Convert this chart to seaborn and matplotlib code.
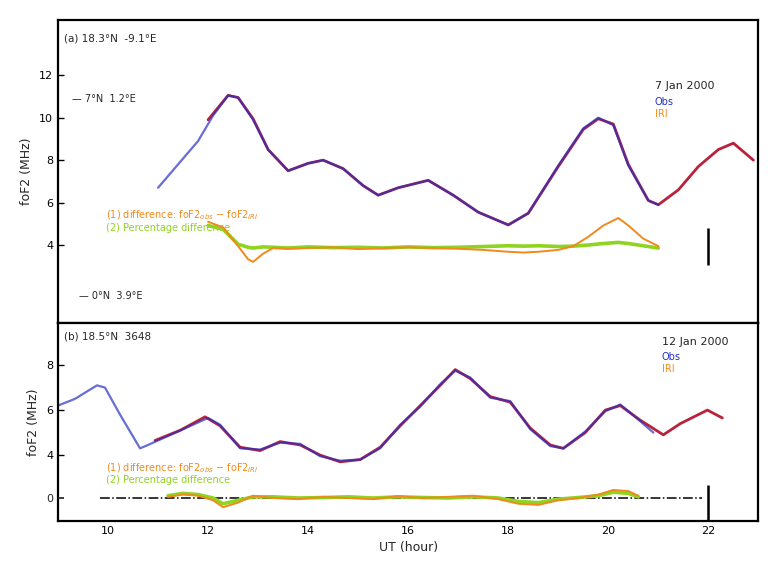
import numpy as np
import pandas as pd
import matplotlib
matplotlib.use("Agg")
import matplotlib.pyplot as plt
import seaborn as sns

sns.set_theme(style="white")
plt.rcParams["font.family"] = ["DejaVu Sans"]

# ---------------- data ----------------
# Panel (a): 7 Jan 2000
a_obs_ut = [11.0, 11.4, 11.8, 12.1, 12.4, 12.6, 12.9, 13.2, 13.6, 14.0, 14.3, 14.7, 15.1, 15.4,
            15.8, 16.4, 16.9, 17.4, 18.0, 18.4, 19.0, 19.5, 19.8, 20.1, 20.4, 20.8, 21.0]
a_obs = [6.7, 7.8, 8.9, 10.1, 11.05, 10.95, 9.9, 8.5, 7.5, 7.85, 8.0, 7.6, 6.8, 6.35,
         6.7, 7.05, 6.35, 5.55, 4.95, 5.5, 7.75, 9.5, 10.0, 9.65, 7.75, 6.1, 5.9]
a_iri_ut = [12.0, 12.4, 12.6, 12.9, 13.2, 13.6, 14.0, 14.3, 14.7, 15.1, 15.4, 15.8, 16.4, 16.9,
            17.4, 18.0, 18.4, 19.0, 19.5, 19.8, 20.1, 20.4, 20.8, 21.0, 21.4, 21.8, 22.2, 22.5, 22.9]
a_iri = [9.9, 11.05, 10.95, 9.95, 8.5, 7.5, 7.85, 8.0, 7.6, 6.8, 6.35, 6.7, 7.05, 6.35,
         5.55, 4.95, 5.5, 7.7, 9.45, 9.95, 9.7, 7.8, 6.1, 5.9, 6.6, 7.7, 8.5, 8.8, 8.0]
a_diff_ut = [12.0, 12.3, 12.6, 12.8, 12.9, 13.1, 13.3, 13.6, 14.0, 14.5, 15.0, 15.5, 16.0, 16.5,
             17.0, 17.5, 18.0, 18.3, 18.6, 19.0, 19.3, 19.6, 19.9, 20.2, 20.4, 20.7, 21.0]
a_diff = [0.7, 0.55, 0.05, -0.3, -0.37, -0.15, 0.0, -0.02, 0.0, 0.02, -0.03, 0.0, 0.02, 0.0,
          -0.02, -0.05, -0.1, -0.12, -0.1, -0.05, 0.05, 0.3, 0.6, 0.8, 0.6, 0.25, 0.05]
a_pct = [0.6, 0.5, 0.1, 0.02, 0.0, 0.03, 0.02, 0.0, 0.03, 0.01, 0.02, 0.0, 0.03, 0.01,
         0.02, 0.04, 0.06, 0.05, 0.06, 0.04, 0.05, 0.08, 0.12, 0.15, 0.12, 0.06, 0.0]

# Panel (b): 12 Jan 2000
b_obs_ut = [9.0, 9.34, 9.78, 9.94, 10.24, 10.64, 10.8, None,
            12.0, 12.24, 12.64, 13.04, 13.44, 13.84, 14.24, 14.64, 15.04, 15.44, 15.84, 16.24,
            16.64, 16.94, 17.24, 17.64, 18.04, 18.44, 18.84, 19.1, 19.54, 19.94, 20.24, 20.64, 20.9]
b_obs = [6.2, 6.5, 7.1, 7.0, 5.8, 4.3, 4.45, None,
         5.65, 5.35, 4.3, 4.25, 4.55, 4.5, 3.95, 3.75, 3.8, 4.3, 5.35, 6.15,
         7.15, 7.75, 7.45, 6.55, 6.4, 5.15, 4.4, 4.3, 5.05, 5.95, 6.25, 5.5, 5.0]
b_iri_ut = [10.94, 11.44, 11.94, 12.24, 12.64, 13.04, 13.44, 13.84, 14.24, 14.64, 15.04, 15.44,
            15.84, 16.24, 16.64, 16.94, 17.24, 17.64, 18.04, 18.44, 18.84, 19.1, 19.54, 19.94,
            20.24, 20.64, 21.1, 21.44, 21.98, 22.28]
b_iri = [4.65, 5.1, 5.7, 5.3, 4.35, 4.2, 4.6, 4.45, 4.0, 3.7, 3.8, 4.35,
         5.3, 6.2, 7.1, 7.8, 7.4, 6.6, 6.35, 5.2, 4.45, 4.3, 5.0, 6.0,
         6.2, 5.55, 4.9, 5.4, 6.0, 5.65]
b_diff_ut = [11.2, 11.5, 11.8, 12.1, 12.3, 12.6, 12.9, 13.3, 13.8, 14.3, 14.8, 15.3, 15.8, 16.3,
             16.8, 17.3, 17.8, 18.2, 18.6, 19.0, 19.4, 19.8, 20.1, 20.4, 20.6]
b_diff = [0.05, 0.15, 0.1, -0.1, -0.4, -0.2, 0.1, 0.0, -0.05, 0.05, 0.0, -0.05, 0.08, 0.0,
          0.05, 0.1, -0.05, -0.25, -0.3, -0.1, 0.0, 0.15, 0.35, 0.3, 0.1]
b_pct = [0.1, 0.2, 0.15, 0.0, -0.25, -0.1, 0.05, 0.05, 0.0, 0.02, 0.05, 0.0, 0.05, 0.02,
         0.0, 0.05, 0.0, -0.15, -0.2, -0.05, 0.02, 0.1, 0.25, 0.2, 0.05]

hour_ticks = [10, 12, 14, 16, 18, 20, 22]
marker_ut = 22.0

OBS_C = "#2630c4"
IRI_C = "#b8223c"
DIFF_C = "#f08a1c"
PCT_C = "#8fd420"


def frame(xs, ys):
    return pd.DataFrame({"ut": xs, "val": ys}).astype(float)


fig = plt.figure(figsize=(7.68, 5.67), dpi=100)
ax1 = fig.add_axes([0.0755, 0.4303, 0.912, 0.5344])
ax2 = fig.add_axes([0.0755, 0.0811, 0.912, 0.3492], sharex=ax1)


def style_axis(ax):
    for s in ax.spines.values():
        s.set_color("black")
        s.set_linewidth(1.6)
    ax.tick_params(axis="both", which="both", direction="in", labelsize=8,
                   colors="black", length=4, width=1)
    ax.set_xticks(hour_ticks)
    ax.set_xticks(np.arange(9, 23.5, 0.8), minor=True)
    ax.tick_params(which="minor", length=2)


def draw_panel(ax, obs_x, obs_y, iri_x, iri_y, d_x, d, p, ylim, dlim, bar, zero_line,
               ylabel, yticks):
    sns.lineplot(data=frame(iri_x, iri_y), x="ut", y="val", ax=ax, color=IRI_C,
                 lw=2.0, sort=False, estimator=None)
    sns.lineplot(data=frame(obs_x, obs_y), x="ut", y="val", ax=ax, color=OBS_C,
                 lw=1.6, alpha=0.7, sort=False, estimator=None)
    ax.set_ylim(*ylim)
    ax.set_yticks(yticks)
    ax.set_ylabel(ylabel, fontsize=9)
    ax.set_xlabel("")
    style_axis(ax)

    tw = ax.twinx()
    tw.set_ylim(*dlim)
    if zero_line:
        tw.axhline(0, xmin=0.06, xmax=0.92, color="black", lw=1.1, ls="-.")
        tw.set_yticks([0])
        tw.yaxis.set_ticks_position("left")
        tw.tick_params(axis="y", direction="in", labelsize=8, length=4)
    else:
        tw.set_yticks([])
    sns.lineplot(data=frame(d_x, p), x="ut", y="val", ax=tw, color=PCT_C, lw=2.6,
                 sort=False, estimator=None)
    sns.lineplot(data=frame(d_x, d), x="ut", y="val", ax=tw, color=DIFF_C, lw=1.4,
                 sort=False, estimator=None)
    tw.vlines(marker_ut, bar[0], bar[1], color="black", lw=1.8)
    tw.set_ylabel("")
    for s in tw.spines.values():
        s.set_visible(False)
    return tw


tw1 = draw_panel(ax1, a_obs_ut, a_obs, a_iri_ut, a_iri, a_diff_ut, a_diff, a_pct,
                 (0.33, 14.6), (-2.0, 6.08), (-0.45, 0.53), False,
                 "foF2 (MHz)", [4, 6, 8, 10, 12])
tw2 = draw_panel(ax2, b_obs_ut, b_obs, b_iri_ut, b_iri, b_diff_ut, b_diff, b_pct,
                 (1.07, 9.87), (-1.0, 7.6), (-1.0, 0.57), True,
                 "foF2 (MHz)", [4, 6, 8])

# panel headers and date / series keys
ax1.text(0.008, 0.955, "(a) 18.3°N  -9.1°E", transform=ax1.transAxes, fontsize=7.5, va="top")
ax1.text(0.02, 0.73, "— 7°N  1.2°E", transform=ax1.transAxes, fontsize=7)
ax1.text(0.03, 0.08, "— 0°N  3.9°E", transform=ax1.transAxes, fontsize=7)
ax1.text(0.852, 0.80, "7 Jan 2000", transform=ax1.transAxes, fontsize=8, va="top")
ax1.text(0.852, 0.745, "Obs", transform=ax1.transAxes, fontsize=7, color=OBS_C, va="top")
ax1.text(0.852, 0.705, "IRI", transform=ax1.transAxes, fontsize=7, color=DIFF_C, va="top")

ax2.text(0.008, 0.955, "(b) 18.5°N  3648", transform=ax2.transAxes, fontsize=7.5, va="top")
ax2.text(0.862, 0.93, "12 Jan 2000", transform=ax2.transAxes, fontsize=8, va="top")
ax2.text(0.862, 0.855, "Obs", transform=ax2.transAxes, fontsize=7, color=OBS_C, va="top")
ax2.text(0.862, 0.795, "IRI", transform=ax2.transAxes, fontsize=7, color=DIFF_C, va="top")

# difference labels
ax1.text(0.068, 0.345, r"(1) difference: foF2$_{obs}$ − foF2$_{IRI}$", transform=ax1.transAxes,
         fontsize=7, color=DIFF_C)
ax1.text(0.068, 0.305, "(2) Percentage difference", transform=ax1.transAxes,
         fontsize=7, color=PCT_C)
ax2.text(0.068, 0.25, r"(1) difference: foF2$_{obs}$ − foF2$_{IRI}$", transform=ax2.transAxes,
         fontsize=7, color=DIFF_C)
ax2.text(0.068, 0.19, "(2) Percentage difference", transform=ax2.transAxes,
         fontsize=7, color=PCT_C)

plt.setp(ax1.get_xticklabels(), visible=False)
ax2.set_xlim(9.0, 23.0)
ax2.set_xlabel("UT (hour)", fontsize=9)

fig.savefig("out.png", dpi=100)
